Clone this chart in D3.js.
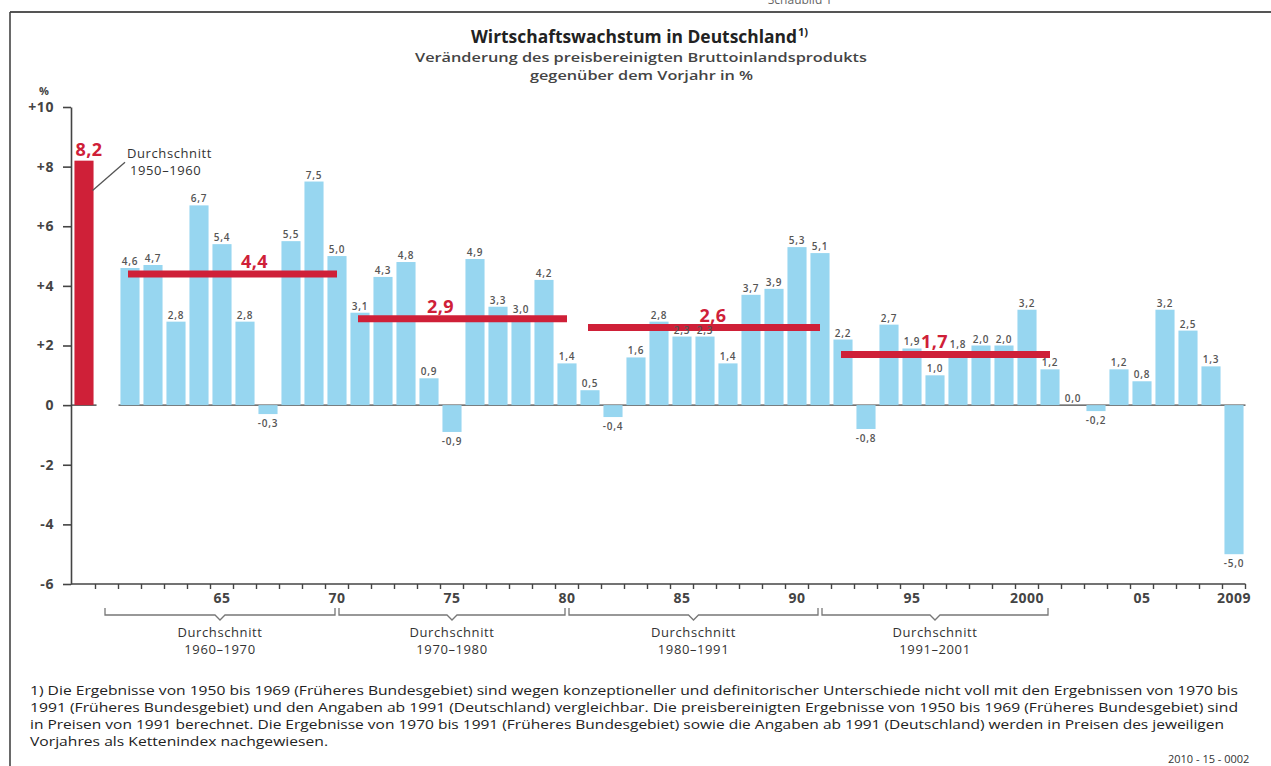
<!DOCTYPE html>
<html><head><meta charset="utf-8">
<script src="https://cdn.jsdelivr.net/npm/d3@7"></script>
<style>
html,body{margin:0;padding:0;background:#fff;}
svg{display:block;font-family:"Open Sans","Noto Sans",sans-serif;}
</style></head>
<body>
<svg id="c" width="1271" height="766"></svg>
<script>
// ---- data ----
const years = d3.range(1961, 2010);
const growth = [4.6,4.7,2.8,6.7,5.4,2.8,-0.3,5.5,7.5,5.0,
                3.1,4.3,4.8,0.9,-0.9,4.9,3.3,3.0,4.2,1.4,
                0.5,-0.4,1.6,2.8,2.3,2.3,1.4,3.7,3.9,5.3,
                5.1,2.2,-0.8,2.7,1.9,1.0,1.8,2.0,2.0,3.2,
                1.2,0.0,-0.2,1.2,0.8,3.2,2.5,1.3,-5.0];
const avg5060Label = "1950–1960";
const avg5060 = 8.2;
const avgStart = [1961, 1971, 1981, 1992];
const avgEnd   = [1970, 1980, 1991, 2001];
const avgValue = [4.4, 2.9, 2.6, 1.7];
const bracketFrom = [1960, 1970, 1980, 1991];
const bracketTo   = [1970, 1980, 1991, 2001];
const bracketText = ["1960–1970", "1970–1980", "1980–1991", "1991–2001"];
const yTicks = [-6,-4,-2,0,2,4,6,8,10];
const xLabelYears = [1965,1970,1975,1980,1985,1990,1995,2000,2005,2009];
const xLabelText  = ["65","70","75","80","85","90","95","2000","05","2009"];
const footnote = [
 "1) Die Ergebnisse von 1950 bis 1969 (Früheres Bundesgebiet) sind wegen konzeptioneller und definitorischer Unterschiede nicht voll mit den Ergebnissen von 1970 bis",
 "1991 (Früheres Bundesgebiet) und den Angaben ab 1991 (Deutschland) vergleichbar.  Die preisbereinigten Ergebnisse von 1950 bis 1969 (Früheres Bundesgebiet) sind",
 "in Preisen von 1991 berechnet. Die Ergebnisse von 1970 bis 1991 (Früheres Bundesgebiet) sowie die Angaben ab 1991 (Deutschland) werden in Preisen des jeweiligen",
 "Vorjahres als Kettenindex nachgewiesen."
];

// ---- styles ----
const BLUE = "#97d6f0", RED = "#cf2038", TXT = "#444", AX = "#444";
const svg = d3.select("#c");
const fmt = v => d3.format(".1f")(v).replace(".", ",").replace("\u2212", "-");

// ---- scales ----
const domain = [avg5060Label, "1960", ...years.map(String)];
const x = d3.scaleBand().domain(domain).range([72.5, 1245.5]).paddingInner(0.17).paddingOuter(0.085);
const step = x.step(), bw = x.bandwidth();
const cx = k => x(String(k)) + bw/2;
const y = d3.scaleLinear().domain([-6, 10]).range([584, 107]);

// ---- frame ----
svg.append("text").attr("x", 800).attr("y", 4).attr("text-anchor","middle")
  .attr("font-size", 12).attr("fill", "#666").text("Schaubild 1");
svg.append("line").attr("x1",10).attr("x2",1271).attr("y1",12).attr("y2",12).attr("stroke","#555").attr("stroke-width",2.2);
svg.append("line").attr("x1",10).attr("x2",10).attr("y1",12).attr("y2",766).attr("stroke","#444").attr("stroke-width",1.6);

// ---- titles ----
const t = svg.append("text").attr("x", 471).attr("y", 43).attr("font-size", 17).attr("font-weight", 700).attr("fill", "#222");
t.append("tspan").attr("textLength", 326).attr("lengthAdjust","spacingAndGlyphs").text("Wirtschaftswachstum in Deutschland");
svg.append("text").attr("x", 798).attr("y", 36).attr("font-size", 11).attr("font-weight", 700).attr("fill","#222").text("1)");
svg.append("text").attr("x", 415).attr("y", 62).attr("font-size", 13).attr("font-weight", 600).attr("fill", TXT)
  .attr("textLength", 452).attr("lengthAdjust","spacingAndGlyphs").text("Veränderung des preisbereinigten Bruttoinlandsprodukts");
svg.append("text").attr("x", 530).attr("y", 80).attr("font-size", 13).attr("font-weight", 600).attr("fill", TXT)
  .attr("textLength", 223).attr("lengthAdjust","spacingAndGlyphs").text("gegenüber dem Vorjahr in %");

// ---- y axis ----
const yAxis = d3.axisLeft(y).tickValues(yTicks).tickSize(8).tickSizeOuter(0).tickPadding(9)
  .tickFormat(d => d > 0 ? "+" + d : String(d).replace("\u2212", "-"));
const ya = svg.append("g").attr("transform","translate(71,0)").call(yAxis);
ya.select(".domain").attr("stroke", AX).attr("stroke-width", 1.6);
ya.selectAll(".tick line").attr("stroke", AX).attr("stroke-width", 1.6);
ya.selectAll(".tick text").attr("font-size", 14).attr("font-weight", 700).attr("fill", TXT)
  .attr("letter-spacing", 0.6).attr("font-family","'Open Sans',sans-serif");
svg.append("text").attr("x", 44).attr("y", 95).attr("text-anchor","middle").attr("font-size", 11).attr("font-weight",700).attr("fill",TXT).text("%");

// ---- x axis (bottom) ----
const xa = svg.append("g");
xa.append("line").attr("x1", 71).attr("x2", x.range()[1]).attr("y1", y(-6)).attr("y2", y(-6)).attr("stroke", AX).attr("stroke-width", 1.6);
const edges = domain.map(d => x(d) - (step - bw)/2).concat([x(domain[domain.length-1]) + bw + (step-bw)/2]);
xa.selectAll("line.tk").data(edges.slice(1)).join("line").attr("class","tk")
  .attr("x1", d => d).attr("x2", d => d).attr("y1", y(-6)).attr("y2", y(-6)+5).attr("stroke", AX).attr("stroke-width", 1.4);
xa.selectAll("text").data(xLabelYears).join("text")
  .attr("x", (d,i) => cx(d)).attr("y", 603).attr("text-anchor","middle")
  .attr("font-size", 14).attr("font-weight", 700).attr("fill", TXT).attr("letter-spacing", 0.5)
  .text((d,i) => xLabelText[i]);

// ---- zero line ----
svg.append("line").attr("x1", 71).attr("x2", x(avg5060Label) + bw + 3).attr("y1", y(0)).attr("y2", y(0)).attr("stroke", AX).attr("stroke-width", 1.4);
svg.append("line").attr("x1", x("1961") - (step-bw)/2).attr("x2", x.range()[1]).attr("y1", y(0)).attr("y2", y(0)).attr("stroke", AX).attr("stroke-width", 1.4);

// ---- bars ----
const data = years.map((yr, i) => ({yr, v: growth[i]}));
svg.append("g").selectAll("rect").data(data).join("rect")
  .attr("x", d => x(String(d.yr))).attr("width", bw)
  .attr("y", d => y(Math.max(0, d.v))).attr("height", d => Math.abs(y(d.v) - y(0)))
  .attr("fill", BLUE);
svg.append("rect").attr("x", x(avg5060Label)).attr("width", bw)
  .attr("y", y(avg5060)).attr("height", y(0) - y(avg5060)).attr("fill", RED);

// ---- averages ----
const labelNudge = [22, -22, 9, -11];
avgValue.forEach((v, i) => {
  const x1 = cx(avgStart[i]) - 2, x2 = cx(avgEnd[i]);
  svg.append("line").attr("x1", x1).attr("x2", x2).attr("y1", y(v)).attr("y2", y(v))
    .attr("stroke", RED).attr("stroke-width", 7);
  svg.append("text").attr("x", (x1 + x2)/2 + labelNudge[i]).attr("y", y(v) - 6)
    .attr("text-anchor","middle").attr("font-size", 18).attr("font-weight", 700).attr("fill", RED)
    .attr("letter-spacing", 0.5).text(fmt(v));
});
svg.append("text").attr("x", cx(avg5060Label) + 5).attr("y", y(avg5060) - 5).attr("text-anchor","middle")
  .attr("font-size", 18).attr("font-weight", 700).attr("fill", RED).attr("letter-spacing", 0.5).text(fmt(avg5060));

// ---- value labels (drawn above the average lines) ----
svg.append("g").selectAll("text").data(data).join("text")
  .attr("x", d => cx(d.yr))
  .attr("y", d => d.v >= 0 ? y(d.v) - 3 : y(d.v) + 13)
  .attr("text-anchor","middle").attr("font-size", 10).attr("font-weight", 600)
  .attr("fill", "#555").attr("letter-spacing", 0.8).text(d => fmt(d.v));

// annotation
svg.append("line").attr("x1", x(avg5060Label) + bw - 1).attr("y1", y(7.2)).attr("x2", 125).attr("y2", y(8.15))
  .attr("stroke", "#555").attr("stroke-width", 1.3);
svg.append("text").attr("x", 127).attr("y", 158).attr("font-size", 13).attr("fill", "#333").attr("letter-spacing", 0.6).text("Durchschnitt");
svg.append("text").attr("x", 130).attr("y", 175).attr("font-size", 13).attr("fill", "#333").attr("letter-spacing", 0.6).text(avg5060Label);

// ---- brackets ----
const by = 615;
bracketFrom.forEach((a, i) => {
  const x1 = cx(a) + (i === 0 ? -2 : 2), x2 = cx(bracketTo[i]) - 2, m = (x1 + x2)/2;
  svg.append("path")
    .attr("d", `M${x1},${by-7}V${by}H${m-5}L${m},${by+5}L${m+5},${by}H${x2}V${by-7}`)
    .attr("fill","none").attr("stroke","#777").attr("stroke-width",1.3);
  svg.append("text").attr("x", m).attr("y", 637).attr("text-anchor","middle").attr("font-size", 13)
    .attr("fill", "#333").attr("letter-spacing", 0.6).text("Durchschnitt");
  svg.append("text").attr("x", m).attr("y", 654).attr("text-anchor","middle").attr("font-size", 13)
    .attr("fill", "#333").attr("letter-spacing", 0.6).text(bracketText[i]);
});

// ---- footnote ----
const fnW = [1208, 1208, 1194, 298];
footnote.forEach((s, i) => {
  svg.append("text").attr("x", 30).attr("y", 695 + i*17).attr("font-size", 12).attr("fill", "#222")
    .attr("textLength", fnW[i]).attr("lengthAdjust","spacingAndGlyphs").text(s);
});
svg.append("text").attr("x", 1168).attr("y", 763).attr("font-size", 11).attr("fill", "#333").text("2010 - 15 - 0002");
</script>
</body></html>
